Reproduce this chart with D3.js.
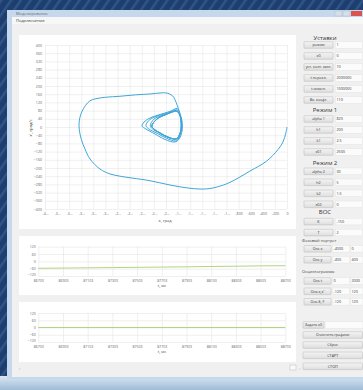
<!DOCTYPE html>
<html>
<head>
<meta charset="utf-8">
<script src="https://cdn.jsdelivr.net/npm/d3@7"></script>
<style>
  html, body { margin: 0; padding: 0; overflow: hidden; background: #f0f0f0; }
  svg { display: block; font-family: "Open Sans", "DejaVu Sans", sans-serif; }
</style>
</head>
<body>
<svg id="app" width="363" height="390"></svg>
<script>
// ---- Phase portrait: angle x (град) and rate x' (град/с) ----
const phaseX = [
  0, -20, -66, -149, -335, -612, -942, -1150, -1327, -1603, -1934, -2264, -2560, -2760,
  -2926, -3091, -3256, -3339, -3400, -3438, -3410, -3330, -3256, -3160, -3000, -2760,
  -2500, -2264, -2099, -1988, -1895, -1851, -1813, -1777, -1735, -1735, -1785, -1851,
  -2016, -2182, -2331, -2397, -2364, -2264, -2099, -1934, -1818,
  -1770, -1745, -1750, -1800, -1845, -1990, -2140, -2290, -2330, -2290, -2180, -2030, -1900, -1828,
  -1775, -1750, -1760, -1820, -1975, -2110, -2230, -2260, -2200, -2040, -1920, -1832,
  -1770, -1746, -1765, -1832, -1967, -2099, -2198, -2235, -2149, -2016, -1835,
  -1770, -1746, -1765, -1832, -1967, -2099, -2198, -2235, -2149, -2016, -1835,
  -1770, -1746, -1765, -1832, -1967, -2099, -2198, -2235, -2149, -2016, -1835
];
const phaseV = [
  0, -30, -73, -110, -166, -215, -270, -292, -302, -299, -283, -262, -249, -240,
  -229, -205, -156, -107, -60, 6, 60, 105, 128, 138, 145, 150,
  157, 161, 166, 166, 153, 133, 104, 73, 29, -20, -59, -73,
  -61, -34, -10, 5, 24, 44, 61, 76, 90,
  62, 20, -22, -60, -68, -55, -32, -8, 7, 30, 50, 63, 76, 84,
  60, 18, -25, -58, -50, -30, -8, 6, 38, 59, 71, 80,
  59, 15, -28, -58, -49, -29, -10, 5, 39, 59, 78,
  59, 15, -28, -58, -49, -29, -10, 5, 39, 59, 78,
  59, 15, -28, -58, -49, -29, -10, 5, 39, 59, 78
];
const phaseXTicks = [-4000, -3800, -3600, -3400, -3200, -3000, -2800, -2600, -2400, -2200,
  -2000, -1800, -1600, -1400, -1200, -1000, -800, -600, -400, -200, 0];
const phaseYTicks = [-400, -360, -320, -280, -240, -200, -160, -120, -80, -40, 0,
  40, 80, 120, 160, 200, 240, 280, 320, 360, 400];

// ---- Oscillograms (t, мс) ----
const oscTicks = [86703, 86903, 87103, 87303, 87503, 87703, 87903, 88103, 88303, 88503, 88703];
const oscYTicks = [-120, -60, 0, 60, 120];
const oscTimeA = [86703, 86903, 87103, 87303, 87503, 87703, 87903, 88103, 88303, 88503, 88703];
const oscValA  = [-57, -55, -53, -51, -49, -47, -45, -42, -40, -37, -36];
const oscTimeB = [86703, 88703];
const oscValB  = [0, 0];

// ---- Control panel texts ----
const headers = [["Уставки", 37.7], ["Режим 1", 110], ["Режим 2", 162.7], ["ВОС", 211.7]];
const groupLabels = [["Фазовый портрет", 240.5], ["Осциллограммы", 271.5]];
const paramRows = [
  ["режим", "1", 41.7], ["x0", "0", 52.7], ["уст. колт. мин.", "10", 63.7],
  ["t перекл.", "2000000", 74.7], ["t измен.", "1000000", 85.7], ["Вх. коэфт.", "110", 96.7],
  ["alpha 1", "820", 115.7], ["h1", "200", 126.7], ["k1", "2.5", 137.7], ["x01", "2500", 148.7],
  ["alpha 2", "30", 168], ["h2", "5", 179], ["k2", "1.5", 190], ["x02", "0", 201],
  ["K", "-150", 218.3], ["T", "2", 229.3]
];
const axisRows = [
  ["Ось x", "-4000", "0", 245.5], ["Ось y", "-400", "400", 256.5],
  ["Ось t", "0", "2000", 277.7], ["Ось x,x'", "-120", "120", 288], ["Ось δ, F", "-120", "120", 298.5]
];
const wideButtons = [["Очистить графики", 331.7], ["Сброс", 341.7], ["СТАРТ", 352], ["СТОП", 363]];

const svg = d3.select("#app");
const defs = svg.append("defs");

// desktop stripes behind the window
const pat = defs.append("pattern").attr("id", "stripes").attr("patternUnits", "userSpaceOnUse")
  .attr("width", 8).attr("height", 8).attr("patternTransform", "rotate(35)");
pat.append("rect").attr("width", 8).attr("height", 8).attr("fill", "#1d3e6e");
pat.append("rect").attr("width", 2.5).attr("height", 8).attr("fill", "#2f5586");
const gBot = defs.append("linearGradient").attr("id", "botg").attr("x1", 0).attr("y1", 0).attr("x2", 0).attr("y2", 1);
gBot.append("stop").attr("offset", 0).attr("stop-color", "#d9e6f2");
gBot.append("stop").attr("offset", 1).attr("stop-color", "#9fbcd8");
const gBtn = defs.append("linearGradient").attr("id", "btng").attr("x1", 0).attr("y1", 0).attr("x2", 0).attr("y2", 1);
gBtn.append("stop").attr("offset", 0).attr("stop-color", "#f4f4f4");
gBtn.append("stop").attr("offset", 1).attr("stop-color", "#dedede");

svg.append("rect").attr("width", 363).attr("height", 390).attr("fill", "url(#stripes)");
svg.append("rect").attr("x", 0).attr("y", 376).attr("width", 363).attr("height", 14).attr("fill", "url(#botg)");

// window frame
svg.append("rect").attr("x", 7).attr("y", 10).attr("width", 356).attr("height", 369).attr("fill", "#c6d8ec");
svg.append("rect").attr("x", 12).attr("y", 17).attr("width", 351).attr("height", 360).attr("fill", "#f0f0f0");
svg.append("rect").attr("x", 12).attr("y", 17).attr("width", 351).attr("height", 7).attr("fill", "#f7f7f7");
svg.append("text").attr("x", 16).attr("y", 15).attr("font-size", 4).attr("fill", "#6a6a6a").text("Моделирование");
svg.append("text").attr("x", 16).attr("y", 22).attr("font-size", 4.2).attr("fill", "#333").text("Подключение");
[[335, "#d4dfea"], [343, "#d4dfea"]].forEach(([x, c]) =>
  svg.append("rect").attr("x", x).attr("y", 11).attr("width", 7).attr("height", 5).attr("fill", c).attr("stroke", "#a8b8c8").attr("stroke-width", 0.4));
svg.append("rect").attr("x", 351).attr("y", 11).attr("width", 11).attr("height", 5).attr("fill", "#d9534f");

// ---------- phase portrait ----------
const pp = { left: 45, right: 287, top: 45, bottom: 209 };
svg.append("rect").attr("x", 19).attr("y", 35).attr("width", 277).attr("height", 194).attr("fill", "#fff");
const xP = d3.scaleLinear().domain([-4000, 0]).range([pp.left, pp.right]);
const yP = d3.scaleLinear().domain([-400, 400]).range([pp.bottom, pp.top]);

const gPhase = svg.append("g");
gPhase.append("g").attr("transform", `translate(0,${pp.bottom})`)
  .call(d3.axisBottom(xP).tickValues(phaseXTicks).tickSize(-(pp.bottom - pp.top)).tickPadding(3)
    .tickFormat(v => Math.abs(v) >= 1000 ? String(v).slice(0, 2) + "..." : String(v)));
gPhase.append("g").attr("transform", `translate(${pp.left},0)`)
  .call(d3.axisLeft(yP).tickValues(phaseYTicks).tickSize(-(pp.right - pp.left)).tickPadding(3));
gPhase.selectAll(".domain").remove();
gPhase.selectAll(".tick line").attr("stroke", "#e6e6e6").attr("stroke-width", 0.6);
gPhase.selectAll(".tick text").attr("font-size", 3.6).attr("fill", "#666").attr("font-family", "Open Sans, sans-serif");

const phasePts = phaseX.map((x, i) => [x, phaseV[i]]);
gPhase.append("path").datum(phasePts)
  .attr("fill", "none").attr("stroke", "#40a6d9").attr("stroke-width", 1).attr("stroke-linejoin", "round")
  .attr("d", d3.line().x(d => xP(d[0])).y(d => yP(d[1])).curve(d3.curveCatmullRom.alpha(0.5)));

svg.append("text").attr("x", 165).attr("y", 222).attr("text-anchor", "middle")
  .attr("font-size", 4).attr("fill", "#444").text("x, град");
svg.append("text").attr("transform", "translate(32,128) rotate(-90)").attr("text-anchor", "middle")
  .attr("font-size", 4).attr("fill", "#444").text("x', град/с");

// ---------- oscillograms ----------
function oscChart(top, bottom, yTop, yBot, times, vals) {
  const left = 38.3, right = 285.3;
  svg.append("rect").attr("x", 19).attr("y", top).attr("width", 277).attr("height", bottom - top).attr("fill", "#fff");
  const x = d3.scaleLinear().domain([oscTicks[0], oscTicks[oscTicks.length - 1]]).range([left, right]);
  const y = d3.scaleLinear().domain([-120, 120]).range([yBot, yTop]);
  const g = svg.append("g");
  g.append("g").attr("transform", `translate(0,${yBot})`)
    .call(d3.axisBottom(x).tickValues(oscTicks).tickSize(-(yBot - yTop)).tickPadding(3.2).tickFormat(d3.format("d")));
  const gy = g.append("g").attr("transform", `translate(${left},0)`)
    .call(d3.axisLeft(y).tickValues(oscYTicks).tickSize(-(right - left)).tickPadding(2.5));
  // lift the lowest value label clear of the first time label
  gy.selectAll(".tick text").filter(d => d === oscYTicks[0]).attr("dy", "-0.2em");
  g.selectAll(".domain").remove();
  g.selectAll(".tick line").attr("stroke", "#e4e4e4").attr("stroke-width", 0.6);
  g.selectAll(".tick text").attr("font-size", 3.5).attr("fill", "#666").attr("font-family", "Open Sans, sans-serif");
  g.append("path").datum(times.map((t, i) => [t, vals[i]]))
    .attr("fill", "none").attr("stroke", "#a9cf74").attr("stroke-width", 0.9)
    .attr("d", d3.line().x(d => x(d[0])).y(d => y(d[1])));
  svg.append("text").attr("x", 162).attr("y", yBot + 11).attr("text-anchor", "middle")
    .attr("font-size", 4).attr("fill", "#444").text("t, мс");
}
oscChart(236, 295, 246.7, 276, oscTimeA, oscValA);
oscChart(302, 362, 313, 342, oscTimeB, oscValB);

// bottom scroll strip
svg.append("text").attr("x", 19).attr("y", 370).attr("font-size", 4).attr("fill", "#888").text("‹");
svg.append("rect").attr("x", 290).attr("y", 365).attr("width", 6).attr("height", 5).attr("fill", "#fafafa").attr("stroke", "#aaa").attr("stroke-width", 0.4);
svg.append("text").attr("x", 299).attr("y", 370).attr("font-size", 4).attr("fill", "#888").text("›");

// ---------- control panel ----------
const cp = svg.append("g").attr("font-family", "Open Sans, sans-serif");
function button(x, y, w, label) {
  cp.append("rect").attr("x", x).attr("y", y).attr("width", w).attr("height", 6.6).attr("rx", 0.6)
    .attr("fill", "url(#btng)").attr("stroke", "#b4b4b4").attr("stroke-width", 0.45);
  cp.append("text").attr("x", x + w / 2).attr("y", y + 4.6).attr("text-anchor", "middle")
    .attr("font-size", 3.7).attr("fill", "#333").text(label);
}
function field(x, y, w, val) {
  cp.append("rect").attr("x", x).attr("y", y).attr("width", w).attr("height", 6.6)
    .attr("fill", "#fbfbfb").attr("stroke", "#e0e0e0").attr("stroke-width", 0.4);
  cp.append("text").attr("x", x + 1).attr("y", y + 4.6).attr("font-size", 3.7).attr("fill", "#333").text(val);
}
headers.forEach(([t, y]) => cp.append("text").attr("x", 325).attr("y", y + 2.2).attr("text-anchor", "middle")
  .attr("font-size", 6).attr("fill", "#333").text(t));
groupLabels.forEach(([t, y]) => cp.append("text").attr("x", 302).attr("y", y + 1.5)
  .attr("font-size", 4).attr("fill", "#444").text(t));
paramRows.forEach(([lab, val, y]) => { button(304, y, 29, lab); field(335.5, y, 27, val); });
axisRows.forEach(([lab, a, b, y]) => { button(304, y, 27, lab); field(332.5, y, 17, a); field(350.5, y, 12.5, b); });
button(303, 321.7, 21, "Задать x0");
field(325, 321.7, 38, "");
wideButtons.forEach(([lab, y]) => button(303, y, 59.5, lab));
</script>
</body>
</html>
